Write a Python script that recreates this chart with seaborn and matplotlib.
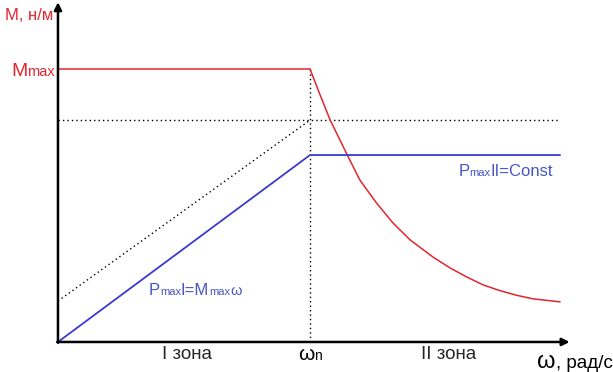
import matplotlib
matplotlib.use('Agg')
import matplotlib.pyplot as plt
import seaborn as sns
from matplotlib.offsetbox import TextArea, HPacker, AnnotationBbox

# speed in units of omega_n, torque in units of M_max
zone1_w = [0.0, 1.0]
zone1_m = [1.0, 1.0]
zone2_w = [1.000, 1.040, 1.079, 1.150, 1.198, 1.264, 1.329, 1.397, 1.488,
           1.556, 1.622, 1.687, 1.754, 1.820, 1.885, 1.992]
zone2_m = [1.000, 0.905, 0.815, 0.681, 0.593, 0.509, 0.436, 0.374, 0.311,
           0.271, 0.238, 0.209, 0.188, 0.171, 0.158, 0.147]
power_w = [0.0, 1.0, 1.992]
power_p = [0.0, 0.685, 0.685]
guide_w = [0.0, 1.0]
guide_p = [0.15, 0.813]
guide_level = 0.813
w_end = 1.992

RED = '#e3262e'
BLUE = '#3a3ad0'
BLUE_TXT = '#4656c4'

sns.set_style('white')
plt.rcParams['font.family'] = ['Liberation Sans', 'DejaVu Sans']

fig = plt.figure(figsize=(6.13, 3.72), dpi=100)
ax = fig.add_axes([0, 0, 1, 1])
ax.set_xlim(-0.230, 2.202)
ax.set_ylim(-0.110, 1.253)
ax.axis('off')

# dotted guides
dot = dict(color='black', lw=1.0, linestyle=(0, (1, 2.2)))
ax.plot(guide_w, guide_p, **dot)
ax.plot([0, w_end], [guide_level, guide_level], **dot)
ax.plot([1.0, 1.0], [0, 1.0], **dot)

# torque and power
sns.lineplot(x=zone1_w, y=zone1_m, color=RED, lw=1.1, ax=ax)
sns.lineplot(x=zone2_w, y=zone2_m, color=RED, lw=1.1, sort=False, ax=ax)
sns.lineplot(x=power_w, y=power_p, color=BLUE, lw=1.3, sort=False, ax=ax)

# axes with arrows
arr = dict(arrowstyle='-|>', lw=1.8, color='black', mutation_scale=11, shrinkA=0, shrinkB=0)
ax.annotate('', xy=(0, 1.245), xytext=(0, -0.003), arrowprops=arr)
ax.annotate('', xy=(2.03, 0), xytext=(-0.003, 0), arrowprops=arr)


def mixed(parts, xy, align, color):
    areas = [TextArea(t, textprops=dict(size=s, color=color)) for t, s in parts]
    box = HPacker(children=areas, align='baseline', pad=0, sep=0)
    ab = AnnotationBbox(box, xy, xycoords='data', box_alignment=align, frameon=False, pad=0)
    ax.add_artist(ab)


ax.text(-0.02, 1.197, 'M, н/м', color=RED, fontsize=12, ha='right', va='center')
mixed([('M', 14), ('max', 10.5)], (-0.012, 0.99), (1, 0.5), RED)
mixed([('ω', 15), ('n', 10)], (1.0, -0.045), (0.5, 0.5), 'black')
ax.text(0.51, -0.047, 'I зона', fontsize=13.5, ha='center', va='center')
ax.text(1.55, -0.047, 'II зона', fontsize=13.5, ha='center', va='center')
mixed([('ω', 17), (', рад/с', 13.5)], (2.2, -0.075), (1, 0.5), 'black')
mixed([('P', 12), ('max', 8), ('II=Const', 12)], (1.965, 0.625), (1, 0.5), BLUE_TXT)
mixed([('P', 12), ('max', 8), ('I=M', 12), ('max', 8), ('ω', 10.5)], (0.36, 0.19), (0, 0.5), BLUE_TXT)

fig.savefig('out.png', dpi=100)
